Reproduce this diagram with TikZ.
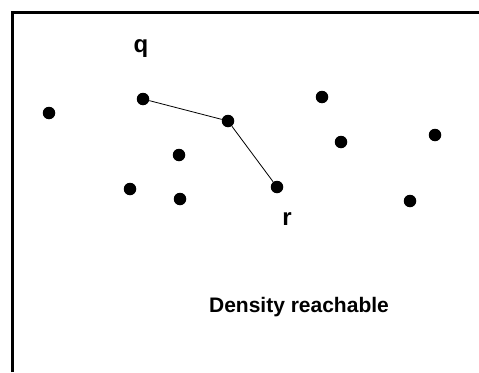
\documentclass[tikz,border=0pt]{standalone}
\usepackage{fontspec}
\setmainfont{Liberation Sans}
\usetikzlibrary{positioning}

\begin{document}
\begin{tikzpicture}[x=1pt,y=-1pt,
  pt/.style={circle,fill=black,inner sep=0pt,minimum size=12.5pt},
  lbl/.style={font=\bfseries\fontsize{21}{25}\selectfont,inner sep=0pt}]
\useasboundingbox (0,0) rectangle (479,372);
% frame (top and left edges only)
\draw[line width=3pt] (12.5,372) -- (12.5,12.5) -- (479,12.5);
% data points
\node[pt] (p1) at (49,113) {};
\node[pt] (q) at (143,99) {};
\node[pt] (m) at (228,121) {};
\node[pt] (r) at (277,187) {};
\node[pt] (p2) at (179,155) {};
\node[pt] (p3) at (130,189) {};
\node[pt] (p4) at (180,199) {};
\node[pt] (p5) at (322,97) {};
\node[pt] (p6) at (341,142) {};
\node[pt] (p7) at (435,135) {};
\node[pt] (p8) at (410,201) {};
% chain from q to r
\draw[line width=0.8pt] (q) -- (m) -- (r);
% labels
\node[lbl,font=\bfseries\fontsize{24}{28}\selectfont] (qlbl) at (141,49) {q};
\node[lbl,font=\bfseries\fontsize{24}{28}\selectfont] (rlbl) at (287,219) {r};
\node[lbl] (title) at (299,307) {Density reachable};
\end{tikzpicture}
\end{document}
